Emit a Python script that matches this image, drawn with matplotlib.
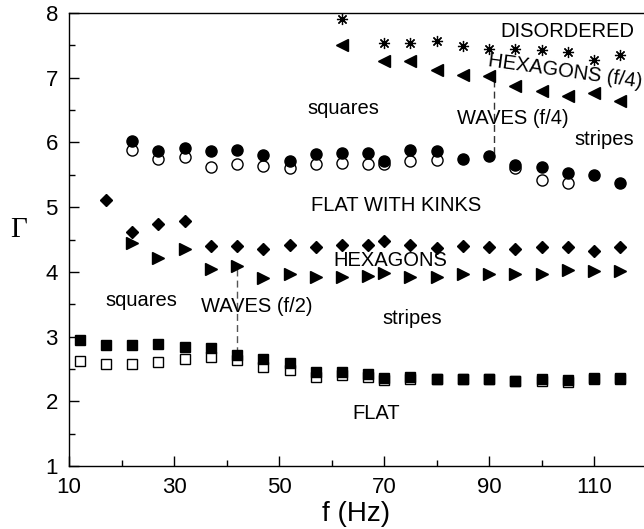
import numpy as np
import matplotlib
matplotlib.use("Agg")
import matplotlib.pyplot as plt
from matplotlib.ticker import FixedLocator, MultipleLocator

plt.rcParams['font.family'] = ['Liberation Sans', 'DejaVu Sans']

# frequencies (Hz)
f_all = [12, 17, 22, 27, 32, 37, 42, 47, 52, 57, 62, 67, 70, 75, 80, 85, 90,
         95, 100, 105, 110, 115]

# FLAT boundary: filled / open squares
sq_fill = [2.95, 2.87, 2.87, 2.88, 2.84, 2.82, 2.72, 2.66, 2.59, 2.46, 2.45,
           2.42, 2.36, 2.37, 2.35, 2.35, 2.35, 2.32, 2.34, 2.33, 2.36, 2.36]
sq_open = [2.63, 2.57, 2.57, 2.60, 2.65, 2.69, 2.64, 2.53, 2.48, 2.38, 2.41,
           2.38, 2.33, 2.35, 2.34, 2.34, 2.34, 2.31, 2.31, 2.30, 2.34, 2.34]

# hexagons boundary: triangles pointing right
f_tri = f_all[2:]
tri_right = [4.44, 4.21, 4.35, 4.04, 4.09, 3.91, 3.97, 3.92, 3.92, 3.94, 3.98,
             3.92, 3.92, 3.96, 3.96, 3.96, 3.96, 4.03, 4.02, 4.02]

# diamonds
f_dia = f_all[1:]
diamonds = [5.11, 4.62, 4.74, 4.79, 4.40, 4.40, 4.36, 4.42, 4.39, 4.42, 4.41,
            4.47, 4.41, 4.37, 4.40, 4.39, 4.36, 4.38, 4.38, 4.32, 4.38]

# circles
f_circ = f_all[2:]
circ_fill = [6.02, 5.87, 5.91, 5.86, 5.88, 5.81, 5.72, 5.82, 5.83, 5.83, 5.72,
             5.89, 5.87, 5.75, 5.79, 5.65, 5.62, 5.53, 5.50, 5.38]
f_circ_open = [22, 27, 32, 37, 42, 47, 52, 57, 62, 67, 70, 75, 80, 95, 100, 105]
circ_open = [5.89, 5.74, 5.78, 5.62, 5.66, 5.64, 5.60, 5.66, 5.68, 5.66, 5.66,
             5.72, 5.73, 5.60, 5.42, 5.37]

# upper boundaries
f_up = [62, 70, 75, 80, 85, 90, 95, 100, 105, 110, 115]
tri_left = [7.51, 7.26, 7.26, 7.12, 7.04, 7.02, 6.87, 6.80, 6.72, 6.76, 6.64]
stars = [7.90, 7.53, 7.53, 7.56, 7.49, 7.44, 7.45, 7.43, 7.39, 7.27, 7.35]

x_major = [10, 30, 50, 70, 90, 110]
x_minor = [20, 40, 60, 80, 100]

fig = plt.figure(figsize=(6.44, 5.29), dpi=100)
ax = fig.add_axes([69 / 644, 63 / 529, 575 / 644, 453 / 529])

# dashed transition lines
ax.plot([42, 42], [4.05, 2.76], color='#555555', lw=1, dashes=(5, 3))
ax.plot([91, 91], [6.96, 5.79], color='#333333', lw=1, dashes=(5, 3))

ax.plot(f_all, sq_open, 's', ms=6.5, mfc='white', mec='black', mew=1)
ax.plot(f_all, sq_fill, 's', ms=7.5, color='black')
ax.plot(f_tri, tri_right, '>', ms=8, color='black')
ax.plot(f_dia, diamonds, 'D', ms=6.5, color='black')
ax.plot(f_circ_open, circ_open, 'o', ms=8, mfc='white', mec='black', mew=1)
ax.plot(f_circ, circ_fill, 'o', ms=8, color='black')
ax.plot(f_up, tri_left, '<', ms=8, color='black')
ax.plot(f_up, stars, marker=(8, 2, 0), ls='none', ms=8, color='black', mew=0.9)

fs = 14.5
ax.text(105, 7.71, 'DISORDERED', fontsize=fs, ha='center', va='center')
ax.text(104.5, 7.09, 'HEXAGONS (f/4)', fontsize=fs, ha='center', va='center',
        rotation=-8, rotation_mode='anchor')
ax.text(62.2, 6.53, 'squares', fontsize=fs, ha='center', va='center')
ax.text(94.6, 6.37, 'WAVES (f/4)', fontsize=fs, ha='center', va='center')
ax.text(111.9, 6.04, 'stripes', fontsize=fs, ha='center', va='center')
ax.text(72.3, 5.03, 'FLAT WITH KINKS', fontsize=fs, ha='center', va='center')
ax.text(71.1, 4.18, 'HEXAGONS', fontsize=fs, ha='center', va='center')
ax.text(23.7, 3.56, 'squares', fontsize=fs, ha='center', va='center')
ax.text(45.7, 3.46, 'WAVES (f/2)', fontsize=fs, ha='center', va='center')
ax.text(75.4, 3.28, 'stripes', fontsize=fs, ha='center', va='center')
ax.text(68.5, 1.81, 'FLAT', fontsize=fs, ha='center', va='center')

ax.set_xlim(10, 119.5)
ax.set_ylim(1, 8)
ax.xaxis.set_major_locator(FixedLocator(x_major))
ax.xaxis.set_minor_locator(FixedLocator(x_minor))
ax.yaxis.set_major_locator(MultipleLocator(1))
ax.yaxis.set_minor_locator(MultipleLocator(0.5))
ax.tick_params(which='both', direction='in', width=1, labelsize=16)
ax.tick_params(which='major', length=7, pad=8)
ax.tick_params(which='minor', length=4)
ax.spines['right'].set_visible(False)
for s in ['left', 'bottom', 'top']:
    ax.spines[s].set_linewidth(1)

ax.set_xlabel('f (Hz)', fontsize=20, labelpad=2)
fig.text(19 / 644, 1 - 230 / 529, '\u0393', fontsize=21, ha='center',
         va='center', family=['Liberation Serif', 'DejaVu Serif'])

fig.savefig('out.png', dpi=100)
